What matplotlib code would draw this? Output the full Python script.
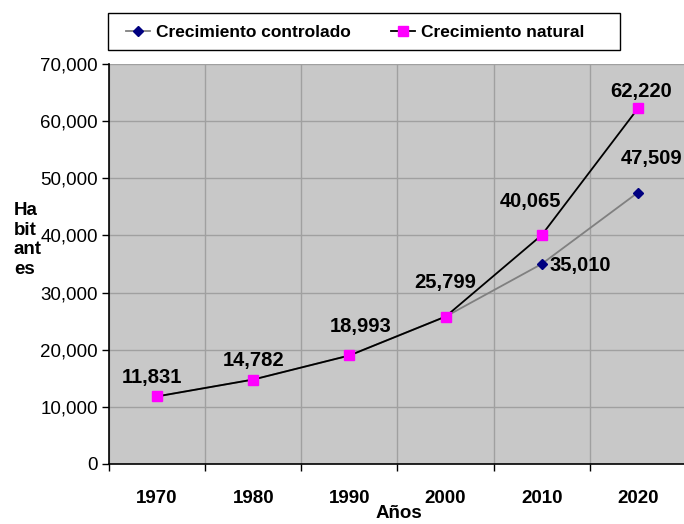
import numpy as np
import matplotlib
matplotlib.use("Agg")
import matplotlib.pyplot as plt
from matplotlib.lines import Line2D
from matplotlib.patches import Rectangle
from matplotlib.ticker import FuncFormatter, FixedLocator

plt.rcParams['font.family'] = ['Liberation Sans', 'DejaVu Sans']

years = ['1970', '1980', '1990', '2000', '2010', '2020']
controlado = [11831, 14782, 18993, 25799, 35010, 47509]
natural = [11831, 14782, 18993, 25799, 40065, 62220]

# which points carry a label, and where (pixel offsets from the point)
lab_nat = {0: (-5, 19), 1: (0, 19), 2: (11, 29), 3: (0, 34), 4: (-11, 34), 5: (3, 17)}
lab_con = {4: (39, -2), 5: (14, 34)}

W, H = 684, 524
fig = plt.figure(figsize=(W / 100, H / 100), dpi=100)
ax = fig.add_axes([109 / W, (H - 464) / H, (686 - 109) / W, 400 / H])

x = np.arange(len(years))
ax.set_facecolor('#C8C8C8')
ax.plot(x, controlado, color='#808080', lw=1.3, marker='D', ms=5.5,
        mfc='#000080', mec='#000080', zorder=3)
ax.plot(x, natural, color='black', lw=1.3, marker='s', ms=6.5,
        mfc='#FF00FF', mec='#FF00FF', zorder=4)

for i, (dx, dy) in lab_nat.items():
    ax.annotate(f"{natural[i]:,}", (x[i], natural[i]), xytext=(dx, dy),
                textcoords='offset pixels', ha='center', va='center',
                fontsize=14.5, fontweight='bold', zorder=5)
for i, (dx, dy) in lab_con.items():
    ax.annotate(f"{controlado[i]:,}", (x[i], controlado[i]), xytext=(dx, dy),
                textcoords='offset pixels', ha='center', va='center',
                fontsize=14.5, fontweight='bold', zorder=5)

ax.set_xlim(-0.5, len(years) - 0.5)
ax.set_ylim(0, 70000)
ax.set_yticks(np.arange(0, 70001, 10000))
ax.yaxis.set_major_formatter(FuncFormatter(lambda v, p: f"{int(v):,}"))
ax.tick_params(axis='y', labelsize=13.5, length=5, width=1, pad=3)

ax.xaxis.set_major_locator(FixedLocator(np.arange(-0.5, len(years), 1.0)))
ax.xaxis.set_minor_locator(FixedLocator(x))
ax.set_xticklabels([])
ax.set_xticklabels(years, minor=True, fontsize=13.5, fontweight='bold')
ax.tick_params(axis='x', which='major', length=5, width=1)
ax.tick_params(axis='x', which='minor', length=0, pad=19)

ax.grid(True, which='major', color='#A0A0A0', lw=1)
ax.set_axisbelow(True)
for s in ['top', 'right']:
    ax.spines[s].set_visible(False)
ax.spines['left'].set_linewidth(1.2)
ax.spines['bottom'].set_linewidth(1.2)

fig.text(14 / W, 1 - 240 / H, "Ha\nbit\nant\nes", fontsize=13.5, fontweight='bold',
         ha='left', va='center', linespacing=1.2)
fig.text(399 / W, 1 - 514 / H, "Años", fontsize=13.5, fontweight='bold',
         ha='center', va='center')

# legend box
fig.patches.append(Rectangle((108 / W, 1 - 50 / H), 512 / W, 37 / H,
                             transform=fig.transFigure, facecolor='white',
                             edgecolor='black', lw=1))
handles = [Line2D([], [], color='#808080', marker='D', ms=5.5, mfc='#000080',
                  mec='#000080', lw=1.3),
           Line2D([], [], color='black', marker='s', ms=6.5, mfc='#FF00FF',
                  mec='#FF00FF', lw=1.3)]
leg = fig.legend(handles, ['Crecimiento controlado', 'Crecimiento natural'],
                 loc='center left', ncol=2,
                 bbox_to_anchor=(126 / W, 1 - 32 / H),
                 prop={'size': 12.5, 'weight': 'bold'}, frameon=False,
                 handlelength=1.4, handletextpad=0.35, columnspacing=2.3,
                 borderaxespad=0, borderpad=0)

fig.savefig('out.png', dpi=100)
